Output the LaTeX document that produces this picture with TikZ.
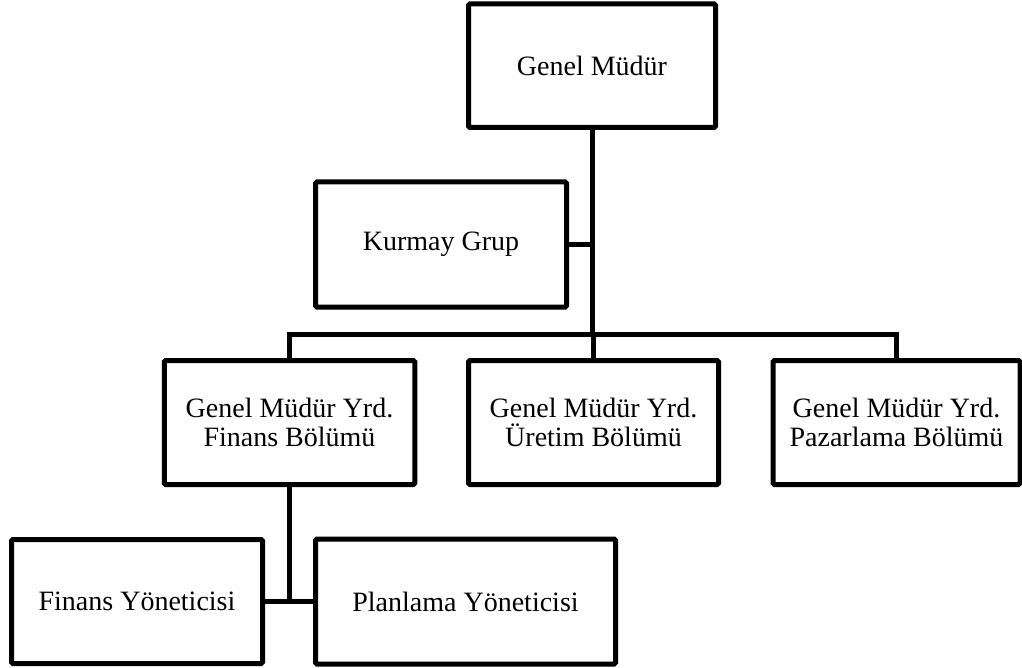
\documentclass[tikz,border=0pt]{standalone}
\usepackage{fontspec}
\setmainfont{Liberation Serif}
\begin{document}
\begin{tikzpicture}[x=1pt,y=-1pt,
  unit/.style={draw=black, line width=5pt, rounded corners=1.5pt, fill=white,
    align=center, inner sep=0pt, font=\fontsize{28}{29}\selectfont},
  link/.style={draw=black, line width=5pt}]
\useasboundingbox (0,0) rectangle (1022,668);

% top management and staff group
\node[unit, minimum width=247pt, minimum height=123.5pt] (gm) at (592,65.75) {Genel Müdür};
\node[unit, minimum width=251pt, minimum height=125pt] (kg) at (441,244.5) {Kurmay Grup};

% deputy directors
\node[unit, minimum width=250.5pt, minimum height=124pt] (fin) at (289.5,422.5) {Genel Müdür Yrd.\\Finans Bölümü};
\node[unit, minimum width=250pt, minimum height=124pt] (ur) at (593.5,422.5) {Genel Müdür Yrd.\\Üretim Bölümü};
\node[unit, minimum width=247pt, minimum height=124pt] (pz) at (896.5,422.5) {Genel Müdür Yrd.\\Pazarlama Bölümü};

% managers under finance
\node[unit, minimum width=251pt, minimum height=124pt] (fy) at (137,601.5) {Finans Yöneticisi};
\node[unit, minimum width=300pt, minimum height=125pt] (py) at (465.5,601.5) {Planlama Yöneticisi};

% horizontal bus level
\coordinate (bus) at (0,334);

% connectors
\draw[link] (gm.south) -- (gm.south |- bus);
\draw[link] (kg.east) -- (kg.east -| gm.south);
\draw[link] (fin.north) -- (fin.north |- bus) -- (pz.north |- bus) -- (pz.north);
\draw[link] (ur.north) -- (ur.north |- bus);
\draw[link] (fin.south) -- (fin.south |- fy.east);
\draw[link] (fy.east) -- (py.west);
\end{tikzpicture}
\end{document}
